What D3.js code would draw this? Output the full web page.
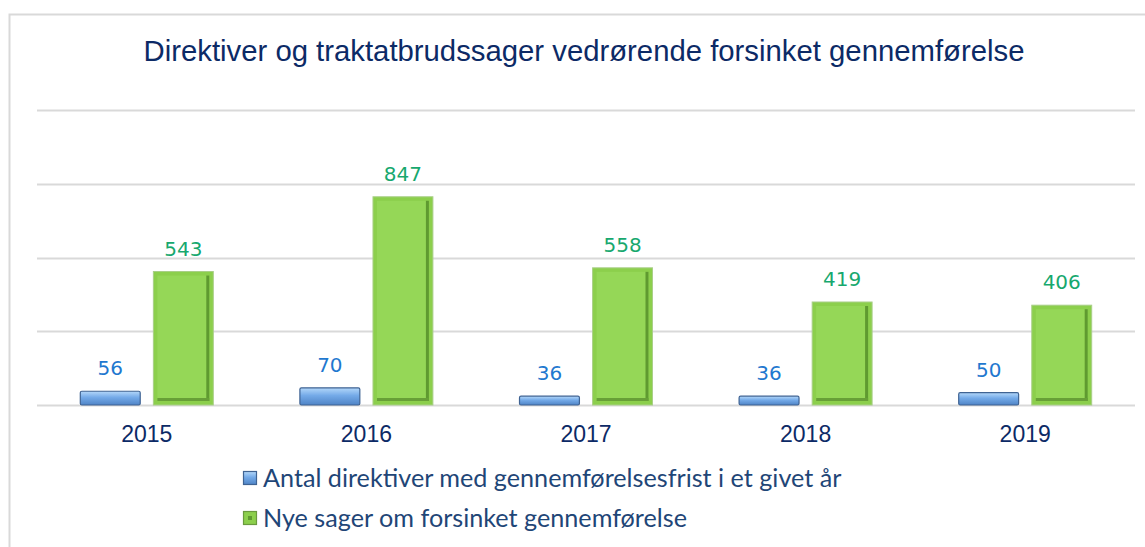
<!DOCTYPE html>
<html><head><meta charset="utf-8">
<script src="https://cdn.jsdelivr.net/npm/d3@7"></script>
<style>body{margin:0;background:#fff}svg{display:block}</style>
</head><body>
<svg id="c" width="1145" height="547"></svg>
<script>
const title = "Direktiver og traktatbrudssager vedrørende forsinket gennemførelse";
const years = ["2015","2016","2017","2018","2019"];
const seriesNames = ["Antal direktiver med gennemførelsesfrist i et givet år","Nye sager om forsinket gennemførelse"];
const directives = [56,70,36,36,50];
const newCases = [543,847,558,419,406];
const yTicks = [0,300,600,900,1200];

const svg = d3.select("#c");
const W=1145,H=547;
const plot = {left:37,right:1135,top:110,bottom:405};

// outer frame
svg.append("path").attr("d",`M9.5,${H} V14.5 H${W}`).attr("fill","none").attr("stroke","#d9d9d9").attr("stroke-width",2);

const defs = svg.append("defs");
const gb = defs.append("linearGradient").attr("id","gblue").attr("x1",0).attr("y1",0).attr("x2",0).attr("y2",1);
gb.append("stop").attr("offset","0%").attr("stop-color","#b4d8fa");
gb.append("stop").attr("offset","45%").attr("stop-color","#74aae8");
gb.append("stop").attr("offset","100%").attr("stop-color","#4f84c6");

const y = d3.scaleLinear().domain([0,1200]).range([plot.bottom,plot.top]);
const x0 = d3.scaleBand().domain(years).range([plot.left,plot.right]).padding(0);
const bw = x0.bandwidth();
const x1 = d3.scaleBand().domain([0,1]).range([bw/2-66.5,bw/2+66.5]).paddingInner(0.18).paddingOuter(0);

// gridlines
svg.append("g").selectAll("line").data(yTicks).join("line")
  .attr("x1",plot.left).attr("x2",plot.right)
  .attr("y1",d=>Math.round(y(d))+0.5).attr("y2",d=>Math.round(y(d))+0.5)
  .attr("stroke","#d9d9d9").attr("stroke-width",2);

// title
svg.append("text").attr("x",584).attr("y",61).attr("text-anchor","middle")
  .attr("font-family","Liberation Sans, Arial, sans-serif").attr("font-size",29.3)
  .attr("fill","#0c2a66").text(title);

const data = years.map((yr,i)=>({yr,vals:[directives[i],newCases[i]]}));
const groups = svg.append("g").selectAll("g").data(data).join("g")
  .attr("transform",d=>`translate(${x0(d.yr)},0)`);

const bwid = x1.bandwidth();
// blue bars
groups.append("rect").attr("x",x1(0)).attr("width",bwid)
  .attr("y",d=>y(d.vals[0])).attr("height",d=>y(0)-y(d.vals[0]))
  .attr("fill","url(#gblue)").attr("stroke","#3f6393").attr("stroke-width",1.2).attr("rx",1.5);
// green bars (bevelled)
groups.append("rect").attr("x",x1(1)).attr("width",bwid)
  .attr("y",d=>y(d.vals[1])).attr("height",d=>y(0)-y(d.vals[1]))
  .attr("fill","#8ccf4c").attr("stroke","#a9cf88").attr("stroke-width",1);
groups.append("rect").attr("x",x1(1)+4).attr("width",bwid-8)
  .attr("y",d=>y(d.vals[1])+4).attr("height",d=>y(0)-y(d.vals[1])-8)
  .attr("fill","#95d757");
groups.append("rect").attr("x",x1(1)+bwid-7).attr("width",3)
  .attr("y",d=>y(d.vals[1])+4).attr("height",d=>y(0)-y(d.vals[1])-8)
  .attr("fill","#5f9a30");
groups.append("rect").attr("x",x1(1)+4).attr("width",bwid-8)
  .attr("y",d=>y(0)-7).attr("height",3)
  .attr("fill","#679f37");

// value labels
groups.append("text").attr("x",x1(0)+bwid/2).attr("y",d=>y(d.vals[0])-16)
  .attr("text-anchor","middle").attr("font-family","DejaVu Sans, Verdana, sans-serif")
  .attr("font-size",20).attr("fill","#1f78cf").text(d=>d.vals[0]);
groups.append("text").attr("x",x1(1)+bwid/2).attr("y",d=>y(d.vals[1])-16)
  .attr("text-anchor","middle").attr("font-family","DejaVu Sans, Verdana, sans-serif")
  .attr("font-size",20).attr("fill","#17a86e").text(d=>d.vals[1]);

// x axis labels
const xa = svg.append("g").attr("transform",`translate(0,${plot.bottom})`)
  .call(d3.axisBottom(x0).tickSize(0).tickPadding(0));
xa.select(".domain").remove();
xa.selectAll("text").attr("dy",null).attr("y",37)
  .attr("font-family","Liberation Sans, Arial, sans-serif").attr("font-size",23).attr("fill","#0c2a66");

// legend
const leg = svg.append("g");
const ly = [478,518];
leg.append("rect").attr("x",243.5).attr("y",ly[0]-6.5).attr("width",13).attr("height",13)
  .attr("fill","url(#gblue)").attr("stroke","#3f6393").attr("stroke-width",1.2);
leg.append("rect").attr("x",243.5).attr("y",ly[1]-6.5).attr("width",13).attr("height",13)
  .attr("fill","#8ccf4c").attr("stroke","#6a9a3e").attr("stroke-width",1.2);
leg.append("rect").attr("x",248).attr("y",ly[1]-2).attr("width",4).attr("height",4).attr("fill","#5f9a30");
leg.selectAll("text.l").data(seriesNames).join("text").attr("class","l")
  .attr("x",263).attr("y",(d,i)=>ly[i]).attr("dy","0.35em")
  .attr("font-family","Lato, Carlito, Calibri, sans-serif").attr("font-size",25.2)
  .attr("fill","#1f4677").text(d=>d);
</script>
</body></html>
